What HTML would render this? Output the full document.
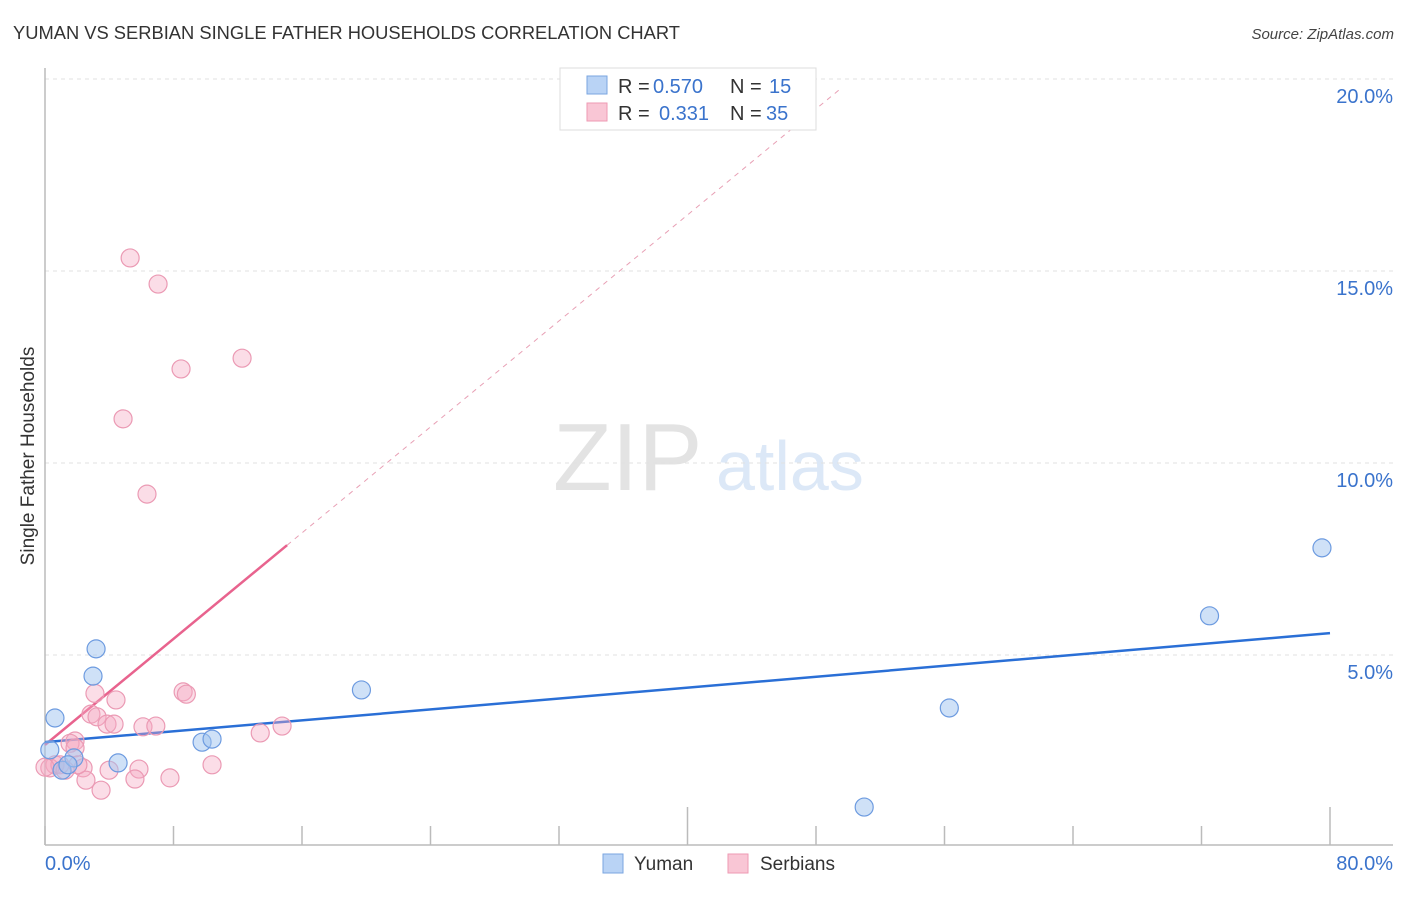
<!DOCTYPE html>
<html><head><meta charset="utf-8">
<style>
body{margin:0;background:#fff;font-family:"Liberation Sans",sans-serif;}
svg text{font-family:"Liberation Sans",sans-serif;}
</style></head>
<body>
<svg id="chart" width="1406" height="892" viewBox="0 0 1406 892" xmlns="http://www.w3.org/2000/svg">
<text x="13" y="39" font-size="18.5" fill="#333" textLength="667" lengthAdjust="spacingAndGlyphs">YUMAN VS SERBIAN SINGLE FATHER HOUSEHOLDS CORRELATION CHART</text>
<text x="1394" y="39" font-size="15" fill="#444" text-anchor="end" font-style="italic">Source: ZipAtlas.com</text>
<g>
<text x="553" y="490" font-size="96" fill="#e3e3e3" font-family="Liberation Serif, serif">ZIP</text>
<text x="716" y="490" font-size="70" fill="#dce8f7">atlas</text>
</g>
<g id="grid"></g>
<g id="axes"></g>
<g id="lines"></g>
<g id="points"></g>
<text transform="translate(34,456) rotate(-90)" font-size="19" fill="#333" text-anchor="middle">Single Father Households</text>
<g>
<rect x="560" y="68" width="256" height="62" fill="#fff" stroke="#ddd"/>
<rect x="587" y="76" width="20" height="18" fill="#b9d3f5" stroke="#7aa6e0"/>
<rect x="587" y="103" width="20" height="18" fill="#f9c6d5" stroke="#ee9ab3"/>
<text x="618" y="93" font-size="20" fill="#333">R =</text>
<text x="653" y="93" font-size="20" fill="#3a73cc">0.570</text>
<text x="730" y="93" font-size="20" fill="#333">N =</text>
<text x="769" y="93" font-size="20" fill="#3a73cc">15</text>
<text x="618" y="120" font-size="20" fill="#333">R =</text>
<text x="659" y="120" font-size="20" fill="#3a73cc">0.331</text>
<text x="730" y="120" font-size="20" fill="#333">N =</text>
<text x="766" y="120" font-size="20" fill="#3a73cc">35</text>
</g>
<g>
<rect x="603" y="854" width="20" height="19" fill="#b9d3f5" stroke="#7aa6e0"/>
<text x="634" y="870" font-size="19" fill="#333">Yuman</text>
<rect x="728" y="854" width="20" height="19" fill="#f9c6d5" stroke="#ee9ab3"/>
<text x="760" y="870" font-size="19" fill="#333">Serbians</text>
</g>
</svg>
<script>
const yumanX=[0.62,3.18,2.99,4.55,9.78,10.4,19.7,56.3,51.0,72.5,79.5,1.06,1.8,1.43,0.3];
const yumanY=[3.36,5.16,4.45,2.19,2.73,2.81,4.09,3.62,1.04,6.02,7.79,2.0,2.32,2.14,2.53];
const serbX=[5.3,7.04,8.47,12.27,4.86,6.35,3.11,4.42,2.86,3.24,3.86,4.3,6.1,6.9,8.6,8.8,13.4,14.76,1.87,1.56,1.87,0.62,0.3,2.37,2.55,3.49,3.99,5.85,5.6,7.78,10.4,0.93,1.25,2.05,0.0];
const serbY=[15.34,14.66,12.45,12.73,11.15,9.19,4.0,3.83,3.46,3.39,3.2,3.2,3.13,3.15,4.04,3.98,2.97,3.15,2.76,2.7,2.58,2.14,2.06,2.06,1.74,1.48,2.0,2.03,1.77,1.8,2.14,2.14,2.0,2.14,2.08];
const yumanTrend=[2.73,5.57];      // y at x=0, y at x=80
const serbTrend=[2.66,0.345];      // intercept, slope
const serbSolidEnd=15.07;
const yTicks=[5,10,15,20];
const yTickLabels=["5.0%","10.0%","15.0%","20.0%"];
const xTicks=[0,8,16,24,32,40,48,56,64,72,80];
const NS="http://www.w3.org/2000/svg";
const sx=v=>45+v*16.0625, sy=v=>847-v*38.4;
function mk(tag,attrs,parent){const e=document.createElementNS(NS,tag);for(const k in attrs)e.setAttribute(k,attrs[k]);document.getElementById(parent).appendChild(e);return e;}
yTicks.forEach((t,i)=>{
 const l=mk('line',{x1:45,x2:1393,y1:sy(t),y2:sy(t),stroke:'#e2e2e2','stroke-dasharray':'4,4'},'grid');
 
 
 const tx=mk('text',{x:1393,y:sy(t)+24,'font-size':20,fill:'#3a73cc','text-anchor':'end'},'grid');
 tx.textContent=yTickLabels[i];
 
 
});
const ya=mk('line',{x1:45,x2:45,y1:68,y2:845,stroke:'#bbb','stroke-width':1.5},'axes');


const xa=mk('line',{x1:45,x2:1393,y1:845,y2:845,stroke:'#bbb','stroke-width':1.5},'axes');


xTicks.forEach(t=>{
 const tk=mk('line',{x1:sx(t),x2:sx(t),y1:(t===80||t===40)?807:826,y2:845,stroke:'#bbb','stroke-width':1.5},'axes');
 
 
});
[[0,"0.0%",'start',45],[80,"80.0%",'end',1393]].forEach(d=>{
 const tx=mk('text',{x:d[3],y:870,'font-size':20,fill:'#3a73cc','text-anchor':d[2]},'axes');
 tx.textContent=d[1];
 
 
});
const sf=x=>serbTrend[0]+serbTrend[1]*x;
const dl=mk('line',{x1:sx(serbSolidEnd),y1:sy(sf(serbSolidEnd)),x2:sx(49.5),y2:sy(sf(49.5)),stroke:'#e8a0b5','stroke-dasharray':'5,5','stroke-width':1},'lines');


const pl=mk('line',{x1:sx(0),y1:sy(sf(0)),x2:sx(serbSolidEnd),y2:sy(sf(serbSolidEnd)),stroke:'#e8638e','stroke-width':2.5},'lines');


const bl=mk('line',{x1:sx(0),y1:sy(yumanTrend[0]),x2:sx(80),y2:sy(yumanTrend[1]),stroke:'#2a6fd6','stroke-width':2.5},'lines');


serbX.forEach((x,i)=>{
 const c=mk('circle',{cx:sx(x),cy:sy(serbY[i]),r:9,fill:'rgba(246,170,195,0.4)',stroke:'#eb9ab4','stroke-width':1.2},'points');
 
 
});
yumanX.forEach((x,i)=>{
 const c=mk('circle',{cx:sx(x),cy:sy(yumanY[i]),r:9,fill:'rgba(160,195,240,0.5)',stroke:'#6d9be0','stroke-width':1.2},'points');
 
 
});
</script>
</body></html>
